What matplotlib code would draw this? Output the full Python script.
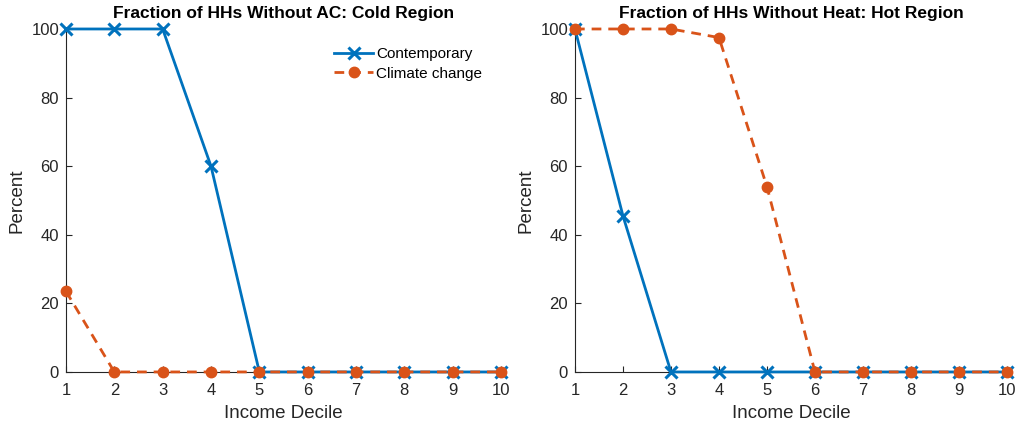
import matplotlib.pyplot as plt
import numpy as np

plt.rcParams['font.family'] = ['Liberation Sans', 'DejaVu Sans']

# Income deciles on the x axis
deciles = np.arange(1, 11)

# Cold region: share of households without AC (%)
cold_contemporary = [100, 100, 100, 60, 0, 0, 0, 0, 0, 0]
cold_climate = [23.5, 0, 0, 0, 0, 0, 0, 0, 0, 0]

# Hot region: share of households without heat (%)
hot_contemporary = [100, 45.5, 0, 0, 0, 0, 0, 0, 0, 0]
hot_climate = [100, 100, 100, 97.5, 54, 0, 0, 0, 0, 0]

titles = ['Fraction of HHs Without AC: Cold Region',
          'Fraction of HHs Without Heat: Hot Region']

blue = '#0072BD'
orange = '#D95319'
axcol = '#262626'

fig = plt.figure(figsize=(10.2, 4.3), dpi=100)
ax1 = fig.add_axes([0.0647, 0.135, 0.4265, 0.7976])
ax2 = fig.add_axes([0.5637, 0.135, 0.4235, 0.7976])

data = [(cold_contemporary, cold_climate), (hot_contemporary, hot_climate)]

for ax, (contemp, climate), title in zip([ax1, ax2], data, titles):
    ax.plot(deciles, contemp, color=blue, linestyle='-', linewidth=2,
            marker='x', markersize=8, markeredgewidth=2.2,
            label='Contemporary', clip_on=False, zorder=3)
    ax.plot(deciles, climate, color=orange, linestyle=(0, (3.5, 2.5)), linewidth=2,
            marker='o', markersize=7.5, label='Climate change',
            clip_on=False, zorder=4)
    ax.set_xlim(1, 10)
    ax.set_ylim(0, 100)
    ax.set_xticks(deciles)
    ax.set_yticks(np.arange(0, 101, 20))
    ax.set_xlabel('Income Decile', fontsize=13.5, color=axcol, labelpad=5)
    ax.set_ylabel('Percent', fontsize=13.5, color=axcol, labelpad=4)
    ax.set_title(title, fontsize=12.5, fontweight='bold', pad=8)
    ax.spines['top'].set_visible(False)
    ax.spines['right'].set_visible(False)
    for s in ['left', 'bottom']:
        ax.spines[s].set_color(axcol)
        ax.spines[s].set_linewidth(0.8)
    ax.tick_params(direction='in', length=4, width=0.8, colors=axcol,
                   labelsize=12)
    ax.tick_params(axis='x', pad=8)
    ax.tick_params(axis='y', pad=5)

ax1.legend(loc='upper right', frameon=False, fontsize=11,
           handlelength=2.6, handletextpad=0.2, borderaxespad=0.3,
           labelspacing=0.35, bbox_to_anchor=(0.982, 0.978))

plt.savefig('out.png', dpi=100)
